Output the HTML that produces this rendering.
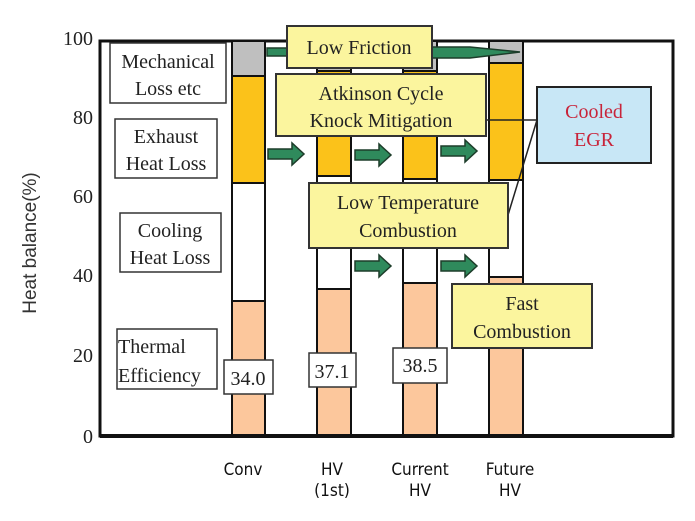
<!DOCTYPE html>
<html><head><style>
body{margin:0;background:#fff;}
svg{display:block}
.s{font-family:"Liberation Serif",serif;font-size:20px;fill:#222;}
.a{font-family:"Liberation Sans",sans-serif;}
</style></head><body>
<svg width="695" height="521" viewBox="0 0 695 521" xmlns="http://www.w3.org/2000/svg">
<defs>
<g id="ar"><path d="M0,-5 H24 V-11 L36,0 L24,11 V5 H0 Z" fill="#2f8a5c" stroke="#1d3d2a" stroke-width="1.5"/></g>
</defs>
<rect x="100" y="41" width="573" height="395" fill="#fff" stroke="#111" stroke-width="3"/>
<g stroke="#111" stroke-width="2">
<rect x="232" y="41" width="33" height="35" fill="#bfbfbf"/>
<rect x="232" y="76" width="33" height="107" fill="#fbc21a"/>
<rect x="232" y="183" width="33" height="118" fill="#fff"/>
<rect x="232" y="301" width="33" height="135" fill="#fcc79c"/>
<rect x="317" y="41" width="34" height="30" fill="#bfbfbf"/>
<rect x="317" y="71" width="34" height="105" fill="#fbc21a"/>
<rect x="317" y="176" width="34" height="113" fill="#fff"/>
<rect x="317" y="289" width="34" height="147" fill="#fcc79c"/>
<rect x="403" y="41" width="34" height="30" fill="#bfbfbf"/>
<rect x="403" y="71" width="34" height="108" fill="#fbc21a"/>
<rect x="403" y="179" width="34" height="104" fill="#fff"/>
<rect x="403" y="283" width="34" height="153" fill="#fcc79c"/>
<rect x="489" y="41" width="34" height="22" fill="#bfbfbf"/>
<rect x="489" y="63" width="34" height="117" fill="#fbc21a"/>
<rect x="489" y="180" width="34" height="97" fill="#fff"/>
<rect x="489" y="277" width="34" height="159" fill="#fcc79c"/>
</g>
<line x1="100" y1="436" x2="673" y2="436" stroke="#111" stroke-width="4"/>
<g class="s" text-anchor="end" font-size="20">
<text x="93" y="45">100</text><text x="93" y="124">80</text><text x="93" y="203">60</text>
<text x="93" y="282">40</text><text x="93" y="362">20</text><text x="93" y="443">0</text>
</g>
<text class="a" font-size="19" fill="#333" transform="translate(36,243) rotate(-90)" text-anchor="middle">Heat balance(%)</text>
<g fill="#fff" stroke="#333" stroke-width="1.5">
<rect x="110" y="43" width="116" height="60"/>
<rect x="115" y="119" width="102" height="59"/>
<rect x="120" y="213" width="101" height="59"/>
<rect x="117" y="329" width="100" height="60"/>
</g>
<g class="s" text-anchor="middle">
<text x="168" y="68">Mechanical</text><text x="168" y="95">Loss etc</text>
<text x="166" y="143">Exhaust</text><text x="166" y="170">Heat Loss</text>
<text x="170" y="237">Cooling</text><text x="170" y="264">Heat Loss</text>
</g>
<g class="s"><text x="118" y="353">Thermal</text><text x="118" y="382">Efficiency</text></g>
<g fill="#fff" stroke="#333" stroke-width="1.5">
<rect x="224" y="360" width="49" height="34"/>
<rect x="309" y="353" width="47" height="34"/>
<rect x="393" y="348" width="54" height="35"/>
</g>
<g class="s" text-anchor="middle" font-size="20">
<text x="248" y="385">34.0</text><text x="332" y="378">37.1</text><text x="420" y="372">38.5</text>
</g>
<path d="M267,48 H290 V56 H267 Z" fill="#2f8a5c" stroke="#1d3d2a" stroke-width="1.5"/>
<path d="M430,47 H470 L520,52 L470,58 H430 Z" fill="#2f8a5c" stroke="#1d3d2a" stroke-width="1.5"/>
<use href="#ar" x="268" y="154"/><use href="#ar" x="355" y="155"/><use href="#ar" x="441" y="151"/>
<use href="#ar" x="355" y="266"/><use href="#ar" x="441" y="266"/>
<line x1="475" y1="120" x2="537" y2="120" stroke="#222" stroke-width="1.5"/>
<line x1="508" y1="215" x2="537" y2="120" stroke="#222" stroke-width="1.5"/>
<g fill="#fbf59e" stroke="#333" stroke-width="2">
<rect x="287" y="26" width="145" height="42"/>
<rect x="276" y="74" width="210" height="62"/>
<rect x="309" y="183" width="199" height="65"/>
<rect x="452" y="284" width="140" height="64"/>
</g>
<rect x="537" y="87" width="114" height="76" fill="#c8e7f6" stroke="#222" stroke-width="2"/>
<g class="s" text-anchor="middle" font-size="20">
<text x="359" y="54">Low Friction</text>
<text x="381" y="100">Atkinson Cycle</text><text x="381" y="127">Knock Mitigation</text>
<text x="408" y="209">Low Temperature</text><text x="408" y="237">Combustion</text>
<text x="522" y="310">Fast</text><text x="522" y="338">Combustion</text>
<text x="594" y="118" fill="#c8243a">Cooled</text><text x="594" y="146" fill="#c8243a">EGR</text>
</g>
<g font-family="'DejaVu Sans Condensed','DejaVu Sans',sans-serif" font-size="17" fill="#111" text-anchor="middle">
<text x="243" y="475">Conv</text>
<text x="332" y="475">HV</text><text x="332" y="496">(1st)</text>
<text x="420" y="475">Current</text><text x="420" y="496">HV</text>
<text x="510" y="475">Future</text><text x="510" y="496">HV</text>
</g>
</svg>
</body></html>
